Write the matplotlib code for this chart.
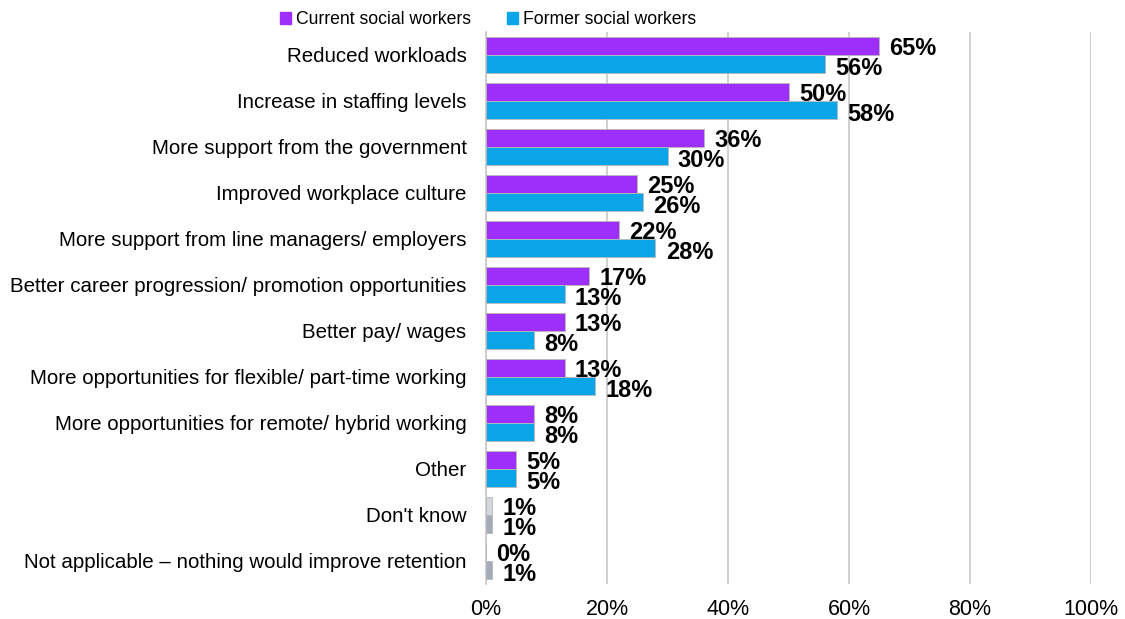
import matplotlib
matplotlib.use("Agg")
import matplotlib.pyplot as plt
import numpy as np
from matplotlib.ticker import FuncFormatter

plt.rcParams['font.family'] = ['Liberation Sans', 'DejaVu Sans']

categories = [
    "Reduced workloads",
    "Increase in staffing levels",
    "More support from the government",
    "Improved workplace culture",
    "More support from line managers/ employers",
    "Better career progression/ promotion opportunities",
    "Better pay/ wages",
    "More opportunities for flexible/ part-time working",
    "More opportunities for remote/ hybrid working",
    "Other",
    "Don't know",
    "Not applicable \u2013 nothing would improve retention",
]
current = [65, 50, 36, 25, 22, 17, 13, 13, 8, 5, 1, 0]
former = [56, 58, 30, 26, 28, 13, 8, 18, 8, 5, 1, 1]
series_names = ["Current social workers", "Former social workers"]
xticks = [0, 20, 40, 60, 80, 100]

purple = "#9E2FFB"
blue = "#0AA5E9"
cur_colors = [purple] * 10 + ["#D3D6DE", "#EEF0F4"]
for_colors = [blue] * 10 + ["#A3ABBB", "#A3ABBB"]

fig = plt.figure(figsize=(11.25, 6.19), dpi=100)
ax = fig.add_axes([486 / 1125, 1 - 584 / 619, (1091 - 486) / 1125, (584 - 32) / 619])

n = len(categories)
y = np.arange(n)
h = 0.39
edge = "#B8B8B8"
ax.barh(y - h / 2, current, height=h, color=cur_colors, edgecolor=edge, linewidth=0.6, zorder=3)
ax.barh(y + h / 2, former, height=h, color=for_colors, edgecolor=edge, linewidth=0.6, zorder=3)

for yi, v in zip(y, current):
    ax.text(v + 1.7, yi - h / 2 + 0.05, f"{v}%", va="center", ha="left",
            fontsize=17, fontweight="bold", color="black", zorder=4)
for yi, v in zip(y, former):
    ax.text(v + 1.7, yi + h / 2 + 0.1, f"{v}%", va="center", ha="left",
            fontsize=17, fontweight="bold", color="black", zorder=4)

ax.set_xlim(0, 100)
ax.set_ylim(n - 0.5, -0.5)
ax.set_xticks(xticks)
ax.xaxis.set_major_formatter(FuncFormatter(lambda v, p: f"{v:.0f}%"))
ax.set_yticks(y)
ax.set_yticklabels(categories, fontsize=14.8)
ax.tick_params(axis="y", length=0, pad=14)
ax.tick_params(axis="x", length=0, pad=11, labelsize=15.5)
ax.grid(axis="x", color="#C8C8C8", linewidth=1.2, zorder=0)
for s in ["top", "right", "bottom"]:
    ax.spines[s].set_visible(False)
ax.spines["left"].set_color("#C8C8C8")
ax.spines["left"].set_linewidth(1.2)

handles = [plt.Rectangle((0, 0), 1, 1, color=purple), plt.Rectangle((0, 0), 1, 1, color=blue)]
fig.legend(handles, series_names, loc="upper center", bbox_to_anchor=(488 / 1125, 1.008),
           ncol=2, frameon=False, fontsize=12.7, handlelength=0.65, handleheight=0.65,
           handletextpad=0.3, columnspacing=2.0)

fig.savefig("out.png", dpi=100)
